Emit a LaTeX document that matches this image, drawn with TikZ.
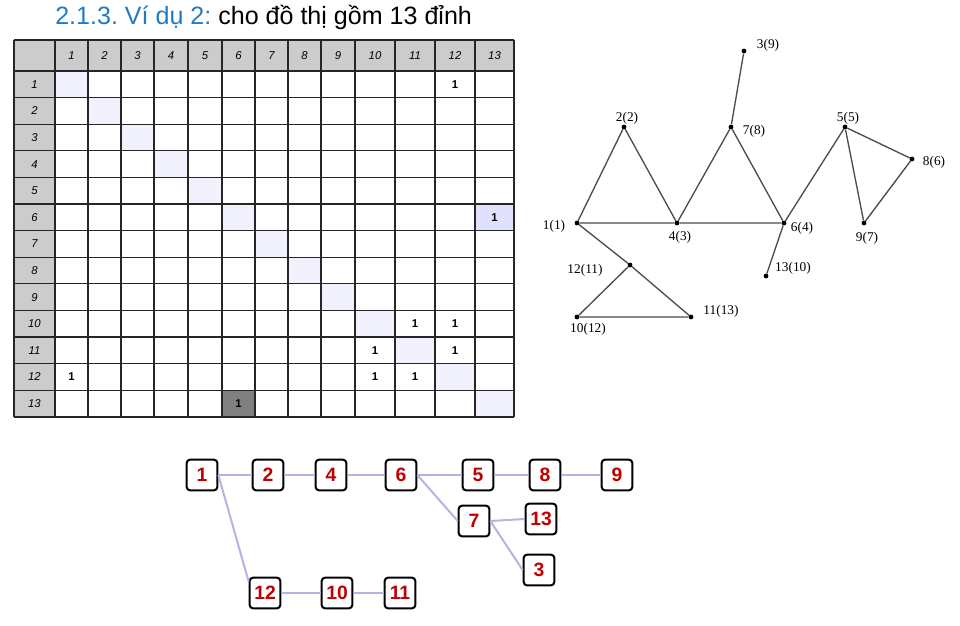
\documentclass[tikz,border=0pt]{standalone}
\usepackage{fontspec}
\setmainfont{Liberation Serif}
\setsansfont{Liberation Sans}
\usetikzlibrary{calc}
\frenchspacing

\definecolor{titleblue}{HTML}{1E7BC4}
\definecolor{hdrgray}{HTML}{CCCCCC}
\definecolor{diagblue}{HTML}{F2F2FF}
\definecolor{markblue}{HTML}{E0E0FF}
\definecolor{darkcell}{HTML}{808080}
\definecolor{boxred}{HTML}{C00000}
\definecolor{treeline}{HTML}{B4B4E0}

\begin{document}
\begin{tikzpicture}[x=0.75pt,y=-0.75pt]
    \tikzstyle{every node}=[inner sep=0pt]
    \tikzstyle{hdr}=[font=\sffamily\itshape\fontsize{8.5}{10}\selectfont]
    \tikzstyle{one}=[font=\sffamily\bfseries\fontsize{8.5}{10}\selectfont]
    \tikzstyle{vdot}=[circle,fill=black,minimum size=3.6pt]
    \tikzstyle{vlbl}=[font=\fontsize{10}{12}\selectfont]
    \tikzstyle{gedge}=[draw=black!70,line width=1pt]
    \tikzstyle{tbox}=[draw=black,line width=1.5pt,rounded corners=2.5pt,fill=white,
      minimum size=23pt,font=\sffamily\bfseries\fontsize{14.5}{16}\selectfont,text=boxred]
    \tikzstyle{tedge}=[draw=treeline,line width=1.5pt]
    \useasboundingbox (0,0) rectangle (960,625);

    % title
    \node[anchor=base west,font=\sffamily\fontsize{18.8}{22}\selectfont] (title) at (55,24)
      {\textcolor{titleblue}{2.1.3. Ví dụ 2:} cho đồ thị gồm 13 đỉnh};

    % adjacency table
    \foreach \r in {0,...,13} \coordinate (rowT\r) at (0,{71+26.6*(\r-1)});
    \coordinate (rowT0) at (0,40);
    \foreach \c/\xa/\xb in {0/14/55,1/55/88,2/88/121,3/121/154,4/154/188,5/188/222,
      6/222/255,7/255/288,8/288/321,9/321/355,10/355/395,11/395/435,12/435/475,13/475/514}
      {\coordinate (colL\c) at (\xa,0); \coordinate (colR\c) at (\xb,0);}
    \fill[hdrgray] (colL0 |- rowT0) rectangle (colR13 |- rowT1);
    \fill[hdrgray] (colL0 |- rowT1) rectangle (colR0 |- 0,417);
    \foreach \r in {1,...,13}
      \fill[diagblue] (colL\r |- rowT\r) rectangle ($(colR\r |- rowT\r)+(0,26.6)$);
    \fill[markblue] (colL13 |- rowT6) rectangle ($(colR13 |- rowT6)+(0,26.6)$);
    \fill[darkcell] (colL6 |- rowT13) rectangle ($(colR6 |- rowT13)+(0,26.6)$);
    \foreach \c in {1,...,13} {
      \node[hdr] (h\c) at ($(colL\c |- 0,55.5)!0.5!(colR\c |- 0,55.5)$) {\c};
      \node[hdr] (r\c) at ($(colL0 |- rowT\c)!0.5!(colR0 |- rowT\c)+(0,13.3)$) {\c};
    }
    \foreach \r/\c in {1/12,6/13,10/11,10/12,11/10,11/12,12/1,12/10,12/11,13/6}
      \node[one] (m\r-\c) at ($(colL\c |- rowT\r)!0.5!(colR\c |- rowT\r)+(0,13.3)$) {1};
    \foreach \c in {0,...,13} \draw[black!85,line width=0.9pt] (colR\c |- 0,40) -- (colR\c |- 0,417);
    \draw[black!85,line width=0.9pt] (colL0 |- 0,40) -- (colL0 |- 0,417);
    \foreach \r in {0,...,13} \draw[black!85,line width=0.9pt] (14,0 |- rowT\r) -- (514,0 |- rowT\r);
    \draw[black!85,line width=0.9pt] (14,417) -- (514,417);

    % graph
    \node[vdot] (g3) at (744,51) {};
    \node[vdot] (g2) at (624,127) {};
    \node[vdot] (g7) at (731,127) {};
    \node[vdot] (g5) at (845,127) {};
    \node[vdot] (g8) at (912,159) {};
    \node[vdot] (g1) at (577,223) {};
    \node[vdot] (g4) at (677,223) {};
    \node[vdot] (g6) at (784,223) {};
    \node[vdot] (g9) at (864,223) {};
    \node[vdot] (g12) at (630,265) {};
    \node[vdot] (g13) at (766,276) {};
    \node[vdot] (g10) at (577,317) {};
    \node[vdot] (g11) at (691,317) {};
    \draw[gedge] (g3) -- (g7);
    \draw[gedge] (g1) -- (g2) -- (g4) -- (g7) -- (g6) -- (g5) -- (g8) -- (g9) -- (g5);
    \draw[gedge] (g1) -- (g4) -- (g6) -- (g13);
    \draw[gedge] (g1) -- (g12) -- (g11) -- (g10) -- (g12);
    \node[vlbl] (l3) at (768,45) {3(9)};
    \node[vlbl] (l2) at (627,118) {2(2)};
    \node[vlbl] (l7) at (754,131) {7(8)};
    \node[vlbl] (l5) at (848,118) {5(5)};
    \node[vlbl] (l8) at (934,162) {8(6)};
    \node[vlbl] (l1) at (554,226) {1(1)};
    \node[vlbl] (l4) at (680,237) {4(3)};
    \node[vlbl] (l6) at (802,228) {6(4)};
    \node[vlbl] (l9) at (867,238) {9(7)};
    \node[vlbl] (l12) at (585,270) {12(11)};
    \node[vlbl] (l13) at (793,268) {13(10)};
    \node[vlbl] (l10) at (588,329) {10(12)};
    \node[vlbl] (l11) at (721,311) {11(13)};

    % spanning tree
    \node[tbox] (t1) at (202,475) {1};
    \node[tbox] (t2) at (268,475) {2};
    \node[tbox] (t4) at (331,475) {4};
    \node[tbox] (t6) at (401,475) {6};
    \node[tbox] (t5) at (478,475) {5};
    \node[tbox] (t8) at (545,475) {8};
    \node[tbox] (t9) at (617,475) {9};
    \node[tbox] (t7) at (474,521) {7};
    \node[tbox] (t13) at (541,519) {13};
    \node[tbox] (t3) at (539,570) {3};
    \node[tbox] (t12) at (265,593) {12};
    \node[tbox] (t10) at (337,593) {10};
    \node[tbox] (t11) at (400,593) {11};
    \draw[tedge] (t1.east) -- (t2.west);
    \draw[tedge] (t2.east) -- (t4.west);
    \draw[tedge] (t4.east) -- (t6.west);
    \draw[tedge] (t6.east) -- (t5.west);
    \draw[tedge] (t5.east) -- (t8.west);
    \draw[tedge] (t8.east) -- (t9.west);
    \draw[tedge] (t6.east) -- (t7.west);
    \draw[tedge] (t7.east) -- (t13.west);
    \draw[tedge] (t7.east) -- (t3.west);
    \draw[tedge] (t1.east) -- (t12.145);
    \draw[tedge] (t12.east) -- (t10.west);
    \draw[tedge] (t10.east) -- (t11.west);
\end{tikzpicture}
\end{document}
